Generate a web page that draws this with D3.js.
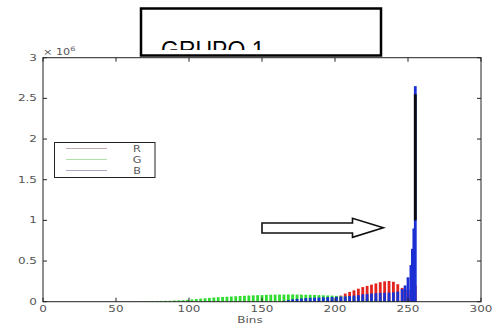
<!DOCTYPE html>
<html>
<head>
<meta charset="utf-8">
<script src="https://cdn.jsdelivr.net/npm/d3@7"></script>
<style>
  html, body { margin: 0; padding: 0; background: #fff; }
  svg { display: block; }
</style>
</head>
<body>
<svg id="chart" width="495" height="333"></svg>
<script>
// histogram bins (every 3rd bin shown, denser at the end), values in units of 10^6
const bins = [51,54,57,60,63,66,69,72,75,78,81,84,87,90,93,96,99,102,105,108,111,114,117,120,123,126,129,132,135,138,141,144,147,150,153,156,159,162,165,168,171,174,177,180,183,186,189,192,195,198,201,204,207,210,213,216,219,222,225,228,231,234,237,240,243,246,248,250,252,253,254,255];

const valuesR = [0,0,0,0,0,0,0,0,0,0,0,0,0,0,0,0,0,0,0,0,0,0,0,0,0,0,0,0,0,0,0,0,0,0,0,0,0,0,0,0,0,0,0,0,0,0,0,0,0.01,0.03,0.05,0.075,0.1,0.12,0.14,0.16,0.18,0.195,0.21,0.225,0.24,0.25,0.255,0.245,0.215,0.17,0.15,0.14,0.15,0.18,0.2,0.2];
const valuesG = [0.003,0.003,0.004,0.004,0.005,0.005,0.006,0.007,0.008,0.009,0.01,0.011,0.012,0.014,0.016,0.019,0.023,0.028,0.033,0.038,0.043,0.047,0.051,0.055,0.058,0.061,0.064,0.067,0.07,0.073,0.076,0.078,0.08,0.082,0.084,0.086,0.087,0.088,0.088,0.089,0.089,0.088,0.087,0.086,0.085,0.083,0.081,0.079,0.077,0.075,0.072,0.068,0.064,0.06,0.055,0.05,0.045,0.04,0.036,0.032,0.028,0.024,0.02,0.017,0.014,0.012,0.01,0.009,0.008,0.007,0.006,0.005];
const valuesB = [0,0,0,0,0,0,0,0,0,0,0,0,0,0,0,0,0,0,0,0,0,0,0,0,0,0,0,0,0,0,0,0,0,0,0,0,0,0,0.01,0.02,0.03,0.035,0.04,0.045,0.048,0.05,0.052,0.054,0.056,0.058,0.06,0.062,0.065,0.07,0.075,0.08,0.09,0.095,0.1,0.105,0.108,0.11,0.112,0.115,0.125,0.155,0.2,0.3,0.45,0.65,0.9,2.65];

// dark stem at the last bin
const spikeBin = 255;
const spikeRange = [1.0, 2.55];

const xTicks = [0, 50, 100, 150, 200, 250, 300];
const yTicks = [0, 0.5, 1, 1.5, 2, 2.5, 3];
const legendLabels = ['R', 'G', 'B'];
const titleText = 'GRUPO 1';

const svg = d3.select('#chart');

const x = d3.scaleLinear().domain([0, 300]).range([43, 481]);
const y = d3.scaleLinear().domain([0, 3]).range([301.7, 57.7]);

const barColors = ['#e3231e', '#2fdc2f', '#1b2fd4'];
const series = [valuesR, valuesG, valuesB];

// bars: R first, then G, B on top
series.forEach((vals, s) => {
  svg.append('g')
    .selectAll('rect')
    .data(bins)
    .enter()
    .append('rect')
    .attr('x', (d) => x(d) - 1.4)
    .attr('width', 2.8)
    .attr('y', (d, i) => y(vals[i]))
    .attr('height', (d, i) => y(0) - y(vals[i]))
    .attr('fill', barColors[s]);
});

svg.append('line')
  .attr('x1', x(spikeBin)).attr('x2', x(spikeBin))
  .attr('y1', y(spikeRange[0])).attr('y2', y(spikeRange[1]))
  .attr('stroke', '#0a0a0a')
  .attr('stroke-width', 2.8);

// axes box
const axisColor = '#222';
svg.append('rect')
  .attr('x', x(0)).attr('y', y(3))
  .attr('width', x(300) - x(0)).attr('height', y(0) - y(3))
  .attr('fill', 'none')
  .attr('stroke', axisColor)
  .attr('stroke-width', 1);

const ticks = svg.append('g').attr('stroke', axisColor).attr('stroke-width', 1);
xTicks.forEach((t) => {
  ticks.append('line').attr('x1', x(t)).attr('x2', x(t)).attr('y1', y(0)).attr('y2', y(0) - 4);
  ticks.append('line').attr('x1', x(t)).attr('x2', x(t)).attr('y1', y(3)).attr('y2', y(3) + 4);
});
yTicks.forEach((t) => {
  ticks.append('line').attr('x1', x(0)).attr('x2', x(0) + 4).attr('y1', y(t)).attr('y2', y(t));
  ticks.append('line').attr('x1', x(300)).attr('x2', x(300) - 4).attr('y1', y(t)).attr('y2', y(t));
});

// tick labels (wide, small MATLAB-ish type)
const labelFont = '"DejaVu Sans", sans-serif';
const stretch = 1.5;
function wideText(px, py, str, anchor) {
  return svg.append('text')
    .attr('transform', `translate(${px},${py}) scale(${stretch},1)`)
    .attr('text-anchor', anchor)
    .attr('font-family', labelFont)
    .attr('font-size', 8)
    .attr('fill', '#555')
    .text(str);
}
xTicks.forEach((t) => wideText(x(t), 311.5, String(t), 'middle'));
yTicks.forEach((t) => wideText(37, y(t) + 3, String(t), 'end'));
wideText(250, 323, 'Bins', 'middle');

// exponent label
const expo = svg.append('text')
  .attr('transform', 'translate(43,54.5) scale(1.4,1)')
  .attr('font-family', labelFont)
  .attr('font-size', 8)
  .attr('fill', '#555');
expo.append('tspan').text('× 10');
expo.append('tspan').attr('dy', -4).attr('font-size', 6).text('6');

// legend
const legend = svg.append('g');
legend.append('rect')
  .attr('x', 54.5).attr('y', 142.5)
  .attr('width', 100.5).attr('height', 35)
  .attr('fill', '#fff')
  .attr('stroke', '#222')
  .attr('stroke-width', 1);
const legendLineColors = ['#c4aaaa', '#aee0a8', '#aaa8c4'];
legendLabels.forEach((lab, i) => {
  const ly = 148.5 + i * 11;
  legend.append('line')
    .attr('x1', 66).attr('x2', 107)
    .attr('y1', ly).attr('y2', ly)
    .attr('stroke', legendLineColors[i])
    .attr('stroke-width', 1.2);
  legend.append('text')
    .attr('transform', `translate(137,${ly + 3}) scale(1.4,1)`)
    .attr('text-anchor', 'middle')
    .attr('font-family', labelFont)
    .attr('font-size', 8)
    .attr('fill', '#555')
    .text(lab);
});

// arrow annotation
const arrowPts = [[262, 223], [352.5, 223], [352.5, 218.3], [383.3, 227.7], [352.5, 237.3], [352.5, 233], [262, 233]];
svg.append('polygon')
  .attr('points', arrowPts.map((p) => p.join(',')).join(' '))
  .attr('fill', '#fff')
  .attr('stroke', '#111')
  .attr('stroke-width', 1.6);

// title text box (text clipped by the box)
svg.append('clipPath').attr('id', 'titleClip')
  .append('rect')
  .attr('x', 141).attr('y', 8.5).attr('width', 240).attr('height', 41.5);
svg.append('rect')
  .attr('x', 141).attr('y', 8.5)
  .attr('width', 240).attr('height', 47)
  .attr('fill', '#fff')
  .attr('stroke', '#000')
  .attr('stroke-width', 2.5);
svg.append('text')
  .attr('clip-path', 'url(#titleClip)')
  .attr('x', 161)
  .attr('y', 57.5)
  .attr('font-family', '"Liberation Sans", Arial, sans-serif')
  .attr('font-size', 23)
  .attr('fill', '#000')
  .text(titleText);
</script>
</body>
</html>
